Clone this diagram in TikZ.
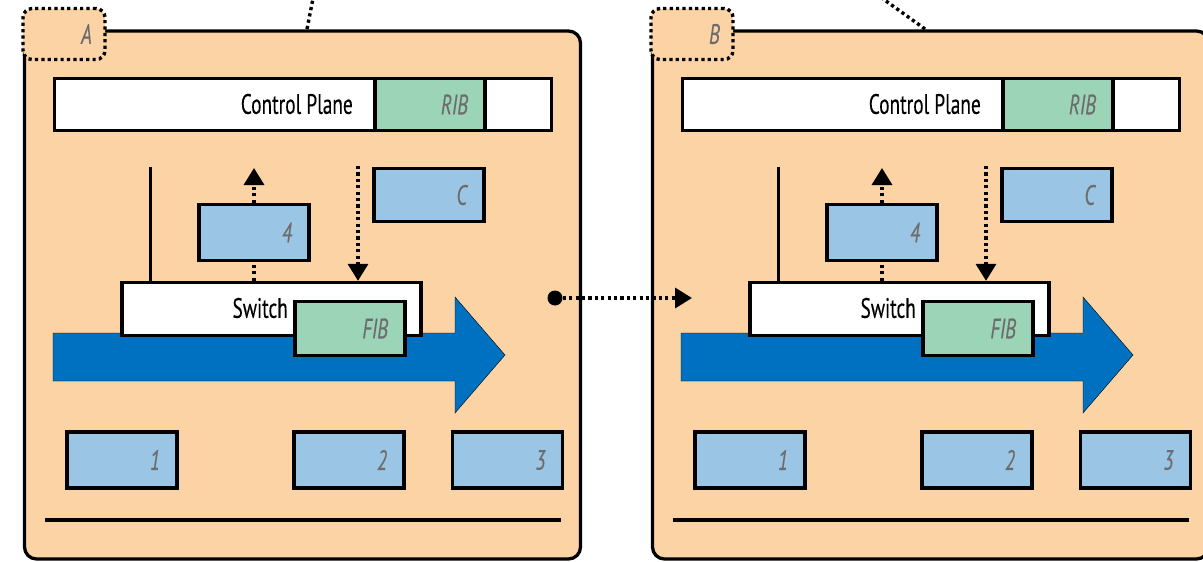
\documentclass[tikz,border=0pt]{standalone}
\usepackage{fontspec}
\setmainfont{PT Sans}[FakeStretch=0.69, FakeBold=0.25]
\usetikzlibrary{arrows.meta}

\definecolor{peach}{RGB}{251,211,165}
\definecolor{cellblue}{RGB}{155,197,228}
\definecolor{cellgreen}{RGB}{155,212,183}
\definecolor{flowblue}{RGB}{0,112,192}
\definecolor{labelgrey}{RGB}{108,108,108}

\tikzset{
  edge/.style={line width=3.3pt},
  panel/.style={draw, edge, fill=peach, rounded corners=12pt, inner sep=0pt},
  tabbox/.style={draw, fill=peach, line width=3.4pt, dash pattern=on 3.2pt off 3.2pt,
    rounded corners=9pt, minimum width=82pt, minimum height=51pt, inner sep=0pt},
  barbox/.style={draw, edge, fill=white, inner sep=0pt},
  cell/.style={draw, edge, fill=cellblue, minimum width=110pt, minimum height=56pt,
    inner xsep=17pt, inner ysep=0pt, text width=76pt, align=right,
    font=\fontsize{28}{32}\selectfont\itshape, text=labelgrey},
  greencell/.style={cell, fill=cellgreen},
  plaintext/.style={inner sep=0pt, font=\fontsize{28}{32}\selectfont},
  tagtext/.style={inner sep=0pt, font=\fontsize{28}{32}\selectfont\itshape, text=labelgrey},
  dotline/.style={line width=3.4pt, dash pattern=on 3.2pt off 3.2pt},
  dotarrow/.style={dotline, -{Triangle[width=20pt,length=17pt]}},
  feedline/.style={line width=3pt},
  flow/.style={fill=flowblue},
  blob/.style={circle, fill=black, minimum size=15pt, inner sep=0pt},
}

% one router: #1 = horizontal offset, #2 = its name
\newcommand\routerpanel[2]{%
\begin{scope}[xshift=#1pt]
  \node[panel, minimum width=556pt, minimum height=528pt] (#2-panel) at (302.5,295) {};
  \node[tabbox] (#2-tab) at (64,34) {};
  \node[tagtext, anchor=east] (#2-tag) at (92,34) {#2};
  % control plane with its RIB
  \node[barbox, minimum width=497pt, minimum height=52pt] (#2-cp) at (303,104.5) {};
  \node[greencell, minimum width=108pt, minimum height=52pt] (#2-rib) at (430,104.5) {RIB};
  \node[plaintext, anchor=east] (#2-cptext) at (353,104) {Control Plane};
  % signalling between the switch and the control plane
  \coordinate (#2-feed) at (150,167);
  \coordinate (#2-up) at (254,168);
  \coordinate (#2-down) at (358,166);
  \node[cell, minimum width=108pt, minimum height=56pt] (#2-four) at (254,232.5) {4};
  \node[cell, minimum width=110pt, minimum height=53pt] (#2-c) at (429,195) {C};
  % traffic through the box
  \draw[flow] (53,333) -- (455,333) -- (455,297) -- (505,355) -- (455,413)
    -- (455,381) -- (53,381) -- cycle;
  \node[barbox, minimum width=299pt, minimum height=53pt] (#2-sw) at (271.5,309) {};
  \node[plaintext, anchor=east] (#2-swtext) at (288,308) {Switch};
  \node[greencell, minimum width=108pt, minimum height=54pt] (#2-fib) at (350,328.5) {FIB};
  \draw[feedline] (#2-feed) -- (#2-feed |- #2-sw.north);
  \draw[dotarrow] (#2-four.north) -- (#2-up);
  \draw[dotline] (#2-four.south |- #2-sw.north) -- (#2-four.south);
  \draw[dotarrow] (#2-down) -- (#2-down |- #2-sw.north);
  % ports
  \node[cell] (#2-p1) at (122,460) {1};
  \node[cell] (#2-p2) at (349,460) {2};
  \node[cell] (#2-p3) at (507.5,460) {3};
  \coordinate (#2-rail-l) at (45,520);
  \coordinate (#2-rail-r) at (561,520);
  \draw[edge] (#2-rail-l) -- (#2-rail-r);
\end{scope}}

\begin{document}
\begin{tikzpicture}[x=1pt, y=-1pt]
  \clip (0,0) rectangle (1203,562);
  \fill[white] (0,0) rectangle (1203,562);

  \routerpanel{0}{A}
  \routerpanel{628}{B}

  % links leaving the top of each router
  \coordinate (A-link) at (313.5,-4);
  \coordinate (B-link) at (879,-4);
  \draw[dotline] (307,29) -- (A-link);
  \draw[dotline] (925,29) -- (B-link);

  % hand-over from A to B
  \node[blob] (hand-src) at (555,298) {};
  \coordinate (hand-dst) at (692,298);
  \draw[dotarrow] (hand-src) -- (hand-dst);
\end{tikzpicture}
\end{document}
